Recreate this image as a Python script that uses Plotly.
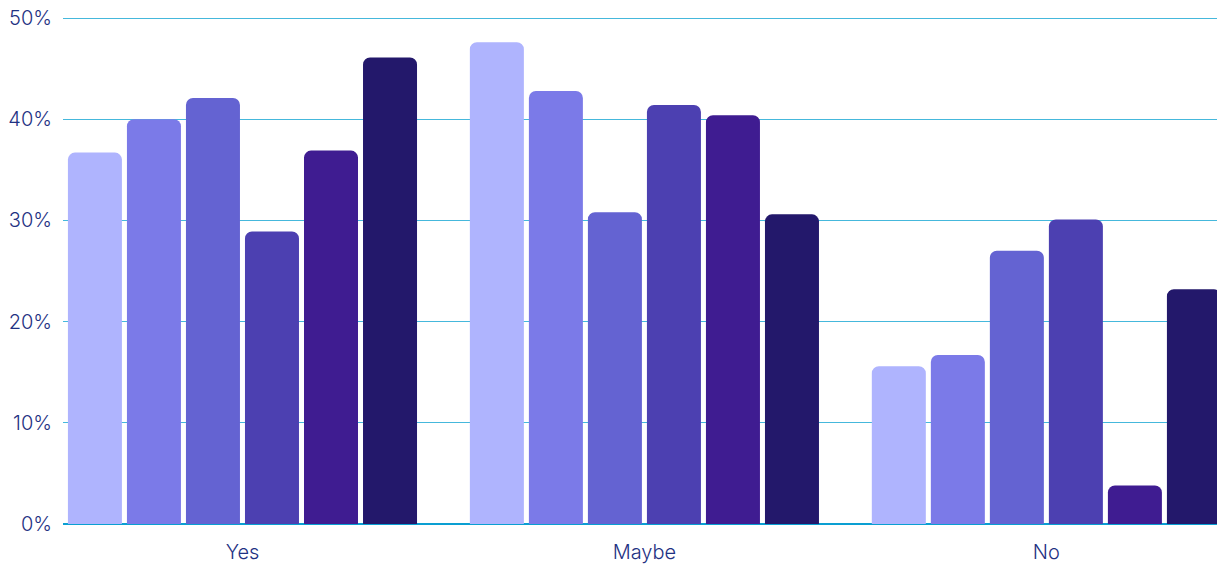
import plotly.graph_objects as go

categories = ["Yes", "Maybe", "No"]

series_names = ["Group 1", "Group 2", "Group 3", "Group 4", "Group 5", "Group 6"]
series_values = [
    [36.7, 47.6, 15.6],
    [40.0, 42.8, 16.7],
    [42.1, 30.8, 27.0],
    [28.9, 41.4, 30.1],
    [36.9, 40.4, 3.8],
    [46.1, 30.6, 23.2],
]
series_colors = ["#AFB4FE", "#7B7AE8", "#6463D2", "#4C40B1", "#3F1C91", "#23186B"]

y_ticks = [0, 10, 20, 30, 40, 50]
y_tick_labels = [f"{v}%" for v in y_ticks]

label_font = dict(family="Inter, sans-serif", size=20, color="#1F3283", weight=300)

fig = go.Figure()
for name, vals, color in zip(series_names, series_values, series_colors):
    fig.add_trace(go.Bar(
        x=categories,
        y=vals,
        name=name,
        marker=dict(color=color, line=dict(width=0)),
    ))

fig.update_layout(
    width=1217,
    height=567,
    margin=dict(l=63, r=0, t=16, b=43),
    barmode="group",
    bargap=0.119,
    bargroupgap=0.085,
    barcornerradius=7,
    showlegend=False,
    plot_bgcolor="white",
    paper_bgcolor="white",
    font=label_font,
    xaxis=dict(
        range=[-0.4465, 2.4245],
        showgrid=False,
        showline=False,
        ticks="",
        ticklabelstandoff=14,
        tickfont=label_font,
    ),
    yaxis=dict(
        range=[0, 50.2],
        tickmode="array",
        tickvals=y_ticks,
        ticktext=y_tick_labels,
        showgrid=True,
        gridcolor="#45B8DC",
        gridwidth=1,
        zeroline=True,
        zerolinecolor="#0A9FD2",
        zerolinewidth=2,
        showline=False,
        ticks="",
        ticklabelstandoff=10,
        tickfont=label_font,
    ),
)

fig.write_html("out.html")
